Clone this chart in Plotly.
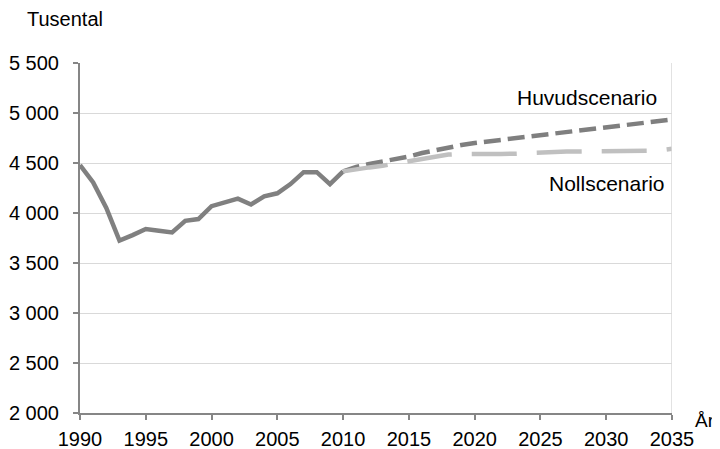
import plotly.graph_objects as go

years_hist = list(range(1990, 2011))
hist = [4480, 4306, 4051, 3725, 3779, 3840, 3823, 3805, 3922, 3939, 4068,
        4105, 4143, 4085, 4167, 4197, 4289, 4408, 4408, 4289, 4416]

years_scen = list(range(2010, 2036))
huvud = [4416, 4460, 4490, 4515, 4535, 4565, 4600, 4630, 4660, 4680, 4700,
         4715, 4730, 4750, 4765, 4785, 4800, 4815, 4830, 4845, 4860, 4870,
         4885, 4900, 4915, 4935]
noll = [4416, 4440, 4456, 4473, 4497, 4517, 4544, 4564, 4584, 4591, 4588,
        4591, 4591, 4592, 4600, 4605, 4610, 4614, 4615, 4617, 4615, 4615,
        4612, 4615, 4625, 4642]

x_ticks = list(range(1990, 2036, 5))
y_ticks = list(range(2000, 5501, 500))

FONT = "Liberation Sans, Arial, sans-serif"
AXIS = "#868686"
GRID = "#d9d9d9"

# page body has an 8px default margin, so the figure is offset by 8px
fig = go.Figure()
fig.add_trace(go.Scatter(x=years_hist, y=hist, mode="lines",
                         line=dict(color="#808080", width=4.5),
                         showlegend=False, hoverinfo="skip"))
fig.add_trace(go.Scatter(x=years_scen, y=huvud, mode="lines",
                         line=dict(color="#7f7f7f", width=4.5, dash="17px,7px"),
                         showlegend=False, hoverinfo="skip"))
fig.add_trace(go.Scatter(x=years_scen, y=noll, mode="lines",
                         line=dict(color="#c0c0c0", width=4.5, dash="45px,20px"),
                         showlegend=False, hoverinfo="skip"))

fig.update_layout(
    template="none",
    width=712, height=441,
    margin=dict(l=72, r=48, t=55, b=36, pad=0, autoexpand=False),
    paper_bgcolor="white", plot_bgcolor="white",
    separators=", ",
    font=dict(family=FONT, size=20, color="#000000"),
    xaxis=dict(range=[1990, 2035], tickvals=x_ticks, showgrid=False,
               showline=True, linecolor=AXIS, linewidth=2, automargin=False,
               ticks="outside", ticklen=5, tickwidth=2, tickcolor=AXIS,
               ticklabelstandoff=2, zeroline=False,
               tickfont=dict(family=FONT, size=20, color="#000000")),
    yaxis=dict(range=[2000, 5500], tickvals=y_ticks, tickformat=",d",
               showgrid=True, gridcolor=GRID, gridwidth=1, automargin=False,
               showline=True, linecolor=AXIS, linewidth=2,
               ticks="outside", ticklen=5, tickwidth=2, tickcolor=AXIS,
               ticklabelstandoff=10, zeroline=False,
               tickfont=dict(family=FONT, size=20, color="#000000")),
    shapes=[dict(type="line", xref="x", yref="y", x0=2035, x1=2035,
                 y0=2000, y1=5500, line=dict(color=GRID, width=1.5))],
    annotations=[
        dict(text="Tusental", xref="paper", yref="paper", x=(25 - 80) / 592,
             y=(413 - 19) / 350, xanchor="left", yanchor="middle",
             showarrow=False, font=dict(family=FONT, size=20, color="#000000")),
        dict(text="År", xref="paper", yref="paper", x=(694 - 80) / 592,
             y=(413 - 420) / 350, xanchor="left", yanchor="middle",
             showarrow=False, borderpad=0,
             font=dict(family=FONT, size=19, color="#000000")),
        dict(text="Huvudscenario", xref="paper", yref="paper",
             x=(659 - 80) / 592, y=(413 - 97) / 350, xanchor="right",
             yanchor="middle", showarrow=False,
             font=dict(family=FONT, size=21, color="#000000")),
        dict(text="Nollscenario", xref="paper", yref="paper",
             x=(667 - 80) / 592, y=(413 - 183) / 350, xanchor="right",
             yanchor="middle", showarrow=False,
             font=dict(family=FONT, size=21, color="#000000")),
    ],
)

fig.write_html("out.html")
